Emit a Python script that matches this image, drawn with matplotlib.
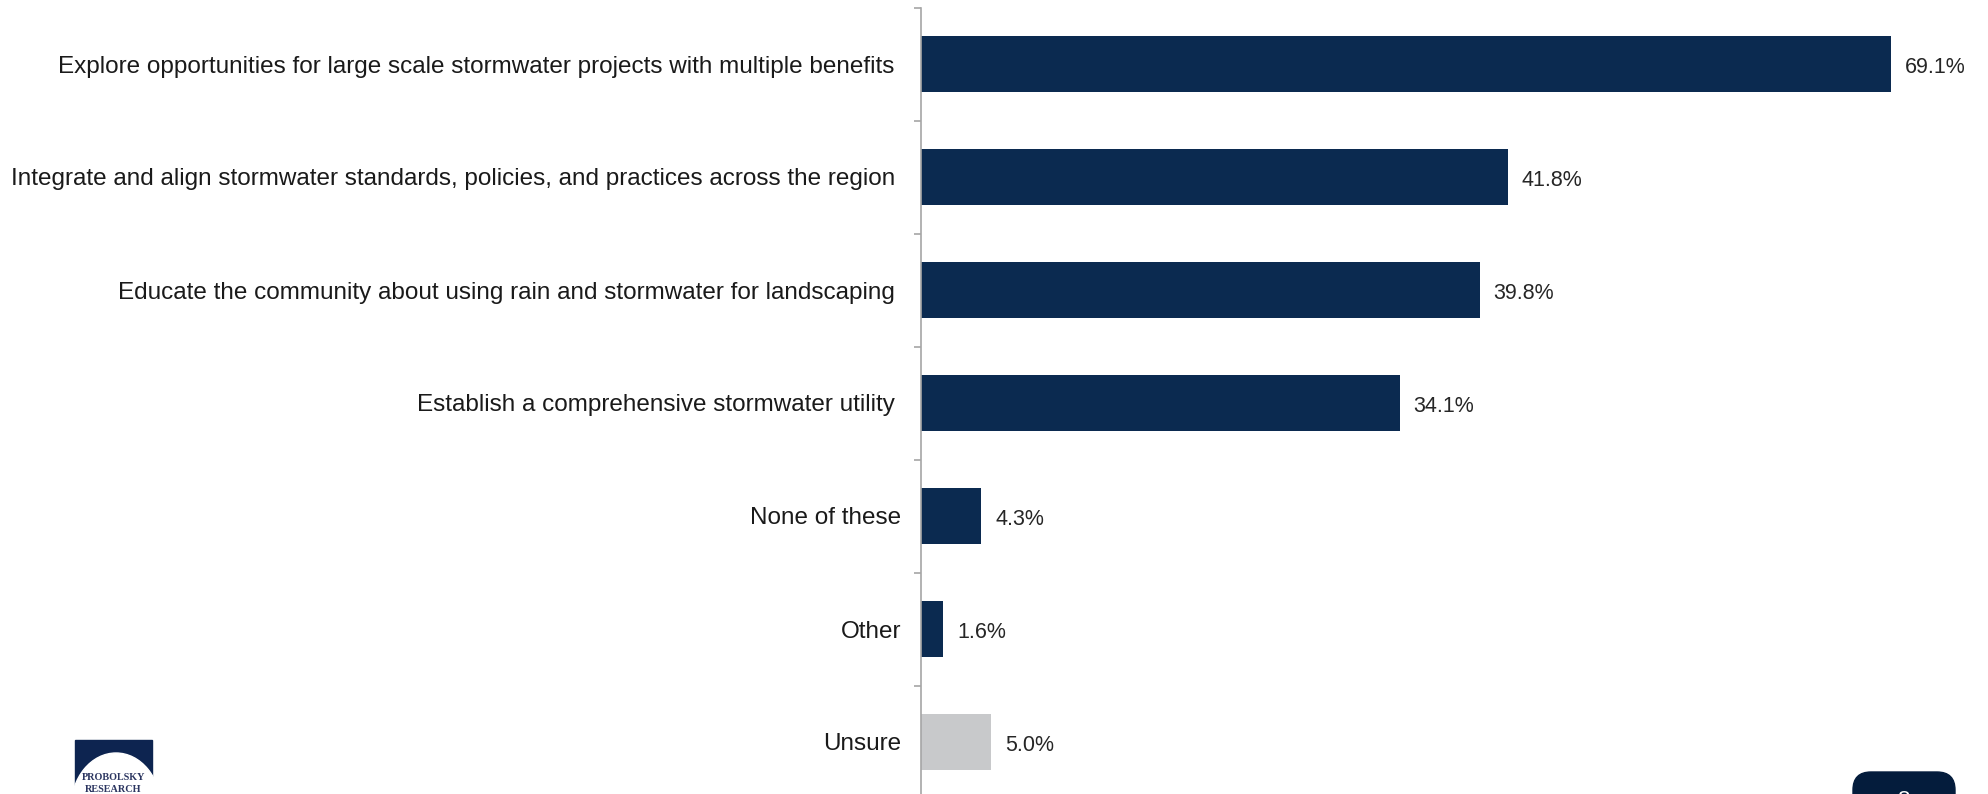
import matplotlib
matplotlib.use("Agg")
import matplotlib.pyplot as plt
from matplotlib.patches import Rectangle, FancyBboxPatch, Ellipse, Arc

plt.rcParams['font.family'] = ['Liberation Sans', 'DejaVu Sans']

categories = [
    "Explore opportunities for large scale stormwater projects with multiple benefits ",
    "Integrate and align stormwater standards, policies, and practices across the region ",
    "Educate the community about using rain and stormwater for landscaping ",
    "Establish a comprehensive stormwater utility ",
    "None of these",
    "Other",
    "Unsure",
]
values = [69.1, 41.8, 39.8, 34.1, 4.3, 1.6, 5.0]
value_labels = ["69.1%", "41.8%", "39.8%", "34.1%", "4.3%", "1.6%", "5.0%"]

NAVY = "#0B2A50"
GRAY_BAR = "#C8C9CB"
bar_colors = [NAVY] * 6 + [GRAY_BAR]

W, H = 1988, 794
fig = plt.figure(figsize=(W / 100, H / 100), dpi=100)

left_px, top_px, bottom_px = 921, 7.5, 798.5
ax = fig.add_axes([left_px / W, 1 - bottom_px / H, 1 - left_px / W, (bottom_px - top_px) / H])

y = list(range(len(categories)))
ax.barh(y, values, height=0.5, color=bar_colors, zorder=2)
ax.set_ylim(len(categories) - 0.5, -0.5)
ax.set_xlim(0, (W - left_px) / 14.04)

for yi, v, lab in zip(y, values, value_labels):
    ax.annotate(lab, (v, yi), xytext=(10, -2.5), textcoords="offset points",
                ha="left", va="center", fontsize=15.5, color="#262626")

ax.set_yticks(y)
ax.set_yticklabels(categories, fontsize=17.5, color="#1a1a1a")
ax.set_yticks([i - 0.5 for i in range(len(categories) + 1)], minor=True)
ax.tick_params(axis="y", which="major", length=0, pad=14)
ax.tick_params(axis="y", which="minor", length=5, width=1.2, color="#A6A6A6")
ax.set_xticks([])
for s in ["top", "right", "bottom"]:
    ax.spines[s].set_visible(False)
ax.spines["left"].set_color("#A6A6A6")
ax.spines["left"].set_linewidth(1.2)

# Company mark, bottom left
logo = fig.add_axes([0, 0, 1, 1], zorder=5)
logo.set_xlim(0, W)
logo.set_ylim(H, 0)
logo.axis("off")
logo.add_patch(Rectangle((75, 740), 77, 60, color="#0D2450"))
logo.add_patch(Ellipse((116, 808), 90, 110, color="white"))
logo.add_patch(Arc((116, 808), 90, 110, theta1=0, theta2=80, color="#0D2450", lw=1.8))
logo.add_patch(Arc((114, 812), 88, 128, theta1=35, theta2=150, color="white", lw=1.6))
logo.text(114, 777, "PROBOLSKY", fontsize=7.3, family="Liberation Serif",
          weight="bold", color="#2B3560", ha="center", va="center")
logo.text(113, 790, "RESEARCH", fontsize=7.3, family="Liberation Serif",
          weight="bold", color="#2B3560", ha="center", va="center")

# Page number tab, bottom right
logo.add_patch(FancyBboxPatch((1853, 772), 102, 60, boxstyle="round,pad=0,rounding_size=18",
                              color="#041C3C"))
logo.text(1904, 801, "8", fontsize=16, color="white", ha="center", va="center")

fig.savefig("out.png", dpi=100)
